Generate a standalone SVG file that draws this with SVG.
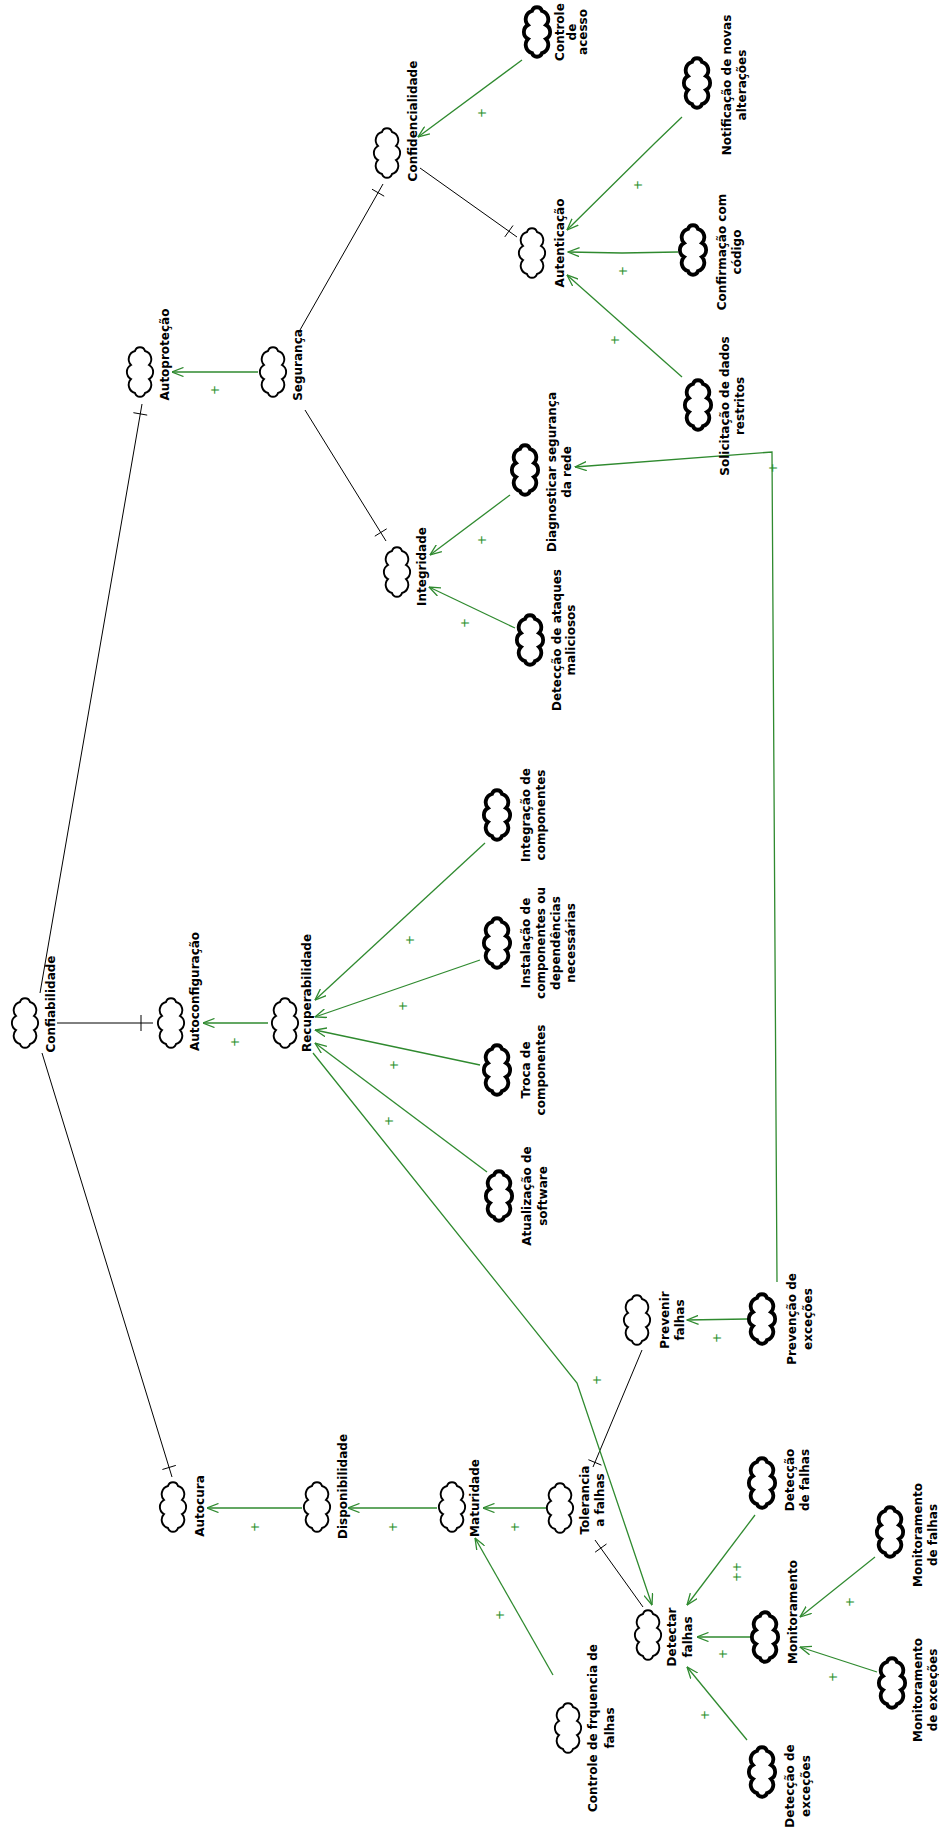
<svg xmlns="http://www.w3.org/2000/svg" xmlns:xlink="http://www.w3.org/1999/xlink" width="939" height="1827" viewBox="0 0 939 1827">
<style>
.c{fill:#fff;stroke:#000;stroke-width:1.9}
.b{stroke-width:3.8}
.t{font-family:"DejaVu Sans",Verdana,sans-serif;font-weight:bold;font-size:12px;fill:#000;text-anchor:middle}
.and{stroke:#000;stroke-width:1;fill:none}
.con{stroke:#2f8a2f;stroke-width:1.3;fill:none;marker-end:url(#arr)}
.p{font-family:"DejaVu Sans",sans-serif;font-size:12px;fill:#2a8f2a;text-anchor:middle}
</style>
<defs>
<!-- cloud glyph for goals and softgoals, centred on 0,0 -->
<path id="cloud" d="M-21,5 A5.2,5.2 0 0 1 -21,-5 A8.5,8.5 0 0 1 -7,-9 A8,8 0 0 1 7,-9 A8.5,8.5 0 0 1 21,-5 A5.2,5.2 0 0 1 21,5 A8.5,8.5 0 0 1 7,9 A8,8 0 0 1 -7,9 A8.5,8.5 0 0 1 -21,5 Z"/>
<marker id="arr" viewBox="0 0 12 10" refX="11.5" refY="5" markerWidth="12" markerHeight="10" markerUnits="userSpaceOnUse" orient="auto">
<path d="M0,0.5 L11.5,5 L0,9.5" fill="none" stroke="#2f8a2f" stroke-width="1.3"/>
</marker>
</defs>
<rect width="939" height="1827" fill="#fff"/>
<!-- the model is laid out left to right, then turned a quarter turn -->
<g transform="translate(0,1827) rotate(-90)">
<g id="connectors">
<!-- decomposition links with end ticks -->
<line class="and" x1="774" y1="42" x2="350" y2="172"/>
<line class="and" x1="361.6" y1="175.8" x2="357.5" y2="162.4"/>
<line class="and" x1="804" y1="57" x2="804" y2="153"/>
<line class="and" x1="796" y1="141" x2="812" y2="141"/>
<line class="and" x1="834" y1="40" x2="1423" y2="142"/>
<line class="and" x1="1411.9" y1="147.2" x2="1414.3" y2="133.4"/>
<line class="and" x1="1497" y1="300" x2="1643" y2="383"/>
<line class="and" x1="1630.8" y1="384.2" x2="1637.8" y2="372"/>
<line class="and" x1="1417" y1="305" x2="1286" y2="386"/>
<line class="and" x1="1290.8" y1="374.8" x2="1298.2" y2="386.7"/>
<line class="and" x1="1659" y1="420" x2="1590" y2="517"/>
<line class="and" x1="1590.1" y1="504.8" x2="1601.5" y2="513"/>
<line class="and" x1="477" y1="642" x2="360" y2="593"/>
<line class="and" x1="367.3" y1="588.4" x2="361.9" y2="601.4"/>
<line class="and" x1="220" y1="643" x2="287" y2="595"/>
<line class="and" x1="283" y1="606.5" x2="274.8" y2="595.1"/>
<!-- contribution links -->
<line class="con" x1="1455" y1="258" x2="1455" y2="172"/>
<line class="con" x1="1767" y1="522" x2="1690" y2="418"/>
<polyline class="con" points="1710,682 1684,655 1597,567"/>
<polyline class="con" points="1575,678 1574,622 1575,568"/>
<line class="con" x1="1450" y1="682" x2="1552" y2="567"/>
<line class="con" x1="1332" y1="510" x2="1272" y2="430"/>
<line class="con" x1="1199" y1="515" x2="1240" y2="429"/>
<polyline class="con" points="545,777 1375,772 1360,575"/>
<line class="con" x1="804" y1="268" x2="804" y2="203"/>
<line class="con" x1="984" y1="485" x2="827" y2="315"/>
<line class="con" x1="867" y1="480" x2="810" y2="315"/>
<line class="con" x1="762" y1="480" x2="797" y2="315"/>
<line class="con" x1="655" y1="487" x2="784" y2="315"/>
<polyline class="con" points="774,313 444,577 222,652"/>
<line class="con" x1="319" y1="547" x2="319" y2="483"/>
<line class="con" x1="319" y1="437" x2="319" y2="348"/>
<line class="con" x1="319" y1="302" x2="319" y2="207"/>
<line class="con" x1="152" y1="553" x2="289" y2="475"/>
<line class="con" x1="508" y1="747" x2="507" y2="687"/>
<line class="con" x1="312" y1="755" x2="222" y2="687"/>
<line class="con" x1="190" y1="753" x2="190" y2="697"/>
<line class="con" x1="87" y1="747" x2="160" y2="687"/>
<line class="con" x1="270" y1="875" x2="210" y2="800"/>
<line class="con" x1="155" y1="877" x2="180" y2="800"/>
<!-- link labels -->
<text class="p" x="1437" y="219">+</text>
<text class="p" x="1714" y="486">+</text>
<text class="p" x="1642" y="642">+</text>
<text class="p" x="1556" y="627">+</text>
<text class="p" x="1487" y="619">+</text>
<text class="p" x="1287" y="486">+</text>
<text class="p" x="1204" y="469">+</text>
<text class="p" x="1359" y="777">+</text>
<text class="p" x="785" y="239">+</text>
<text class="p" x="887" y="414">+</text>
<text class="p" x="821" y="407">+</text>
<text class="p" x="762" y="398">+</text>
<text class="p" x="706" y="393">+</text>
<text class="p" x="447" y="601">+</text>
<text class="p" x="300" y="519">+</text>
<text class="p" x="300" y="397">+</text>
<text class="p" x="300" y="259">+</text>
<text class="p" x="212" y="504">+</text>
<text class="p" x="489" y="721">+</text>
<text class="p" x="260" y="741">+</text>
<text class="p" x="250" y="741">+</text>
<text class="p" x="173" y="727">+</text>
<text class="p" x="112" y="709">+</text>
<text class="p" x="225" y="854">+</text>
<text class="p" x="150" y="837">+</text>
</g>
<g id="confiabilidade"><use xlink:href="#cloud" class="c" x="804" y="25"/><text class="t" x="823" y="55">Confiabilidade</text></g>
<g id="autoconfiguracao"><use xlink:href="#cloud" class="c" x="804" y="171"/><text class="t" x="835.5" y="199">Autoconfiguração</text></g>
<g id="autoprotecao"><use xlink:href="#cloud" class="c" x="1455" y="140"/><text class="t" x="1472.5" y="169">Autoproteção</text></g>
<g id="autocura"><use xlink:href="#cloud" class="c" x="320" y="173"/><text class="t" x="321" y="204">Autocura</text></g>
<g id="seguranca"><use xlink:href="#cloud" class="c" x="1455" y="273"/><text class="t" x="1462" y="302">Segurança</text></g>
<g id="confidencialidade"><use xlink:href="#cloud" class="c" x="1674" y="387"/><text class="t" x="1706" y="417">Confidencialidade</text></g>
<g id="integridade"><use xlink:href="#cloud" class="c" x="1255" y="397"/><text class="t" x="1260.5" y="426">Integridade</text></g>
<g id="autenticacao"><use xlink:href="#cloud" class="c" x="1574" y="532"/><text class="t" x="1584" y="564">Autenticação</text></g>
<g id="controle-acesso"><use xlink:href="#cloud" class="c b" x="1795" y="537"/><text class="t"><tspan x="1795" y="564">Controle</tspan><tspan x="1795" y="576">de</tspan><tspan x="1795" y="587">acesso</tspan></text></g>
<g id="notificacao"><use xlink:href="#cloud" class="c b" x="1744" y="697"/><text class="t"><tspan x="1742" y="731">Notificação de novas</tspan><tspan x="1742" y="746">alterações</tspan></text></g>
<g id="confirmacao"><use xlink:href="#cloud" class="c b" x="1577" y="693"/><text class="t"><tspan x="1575" y="726">Confirmação com</tspan><tspan x="1575" y="741">código</tspan></text></g>
<g id="solicitacao"><use xlink:href="#cloud" class="c b" x="1422" y="698"/><text class="t"><tspan x="1421" y="729">Solicitação de dados</tspan><tspan x="1421" y="744">restritos</tspan></text></g>
<g id="diagnosticar"><use xlink:href="#cloud" class="c b" x="1357" y="525"/><text class="t"><tspan x="1355" y="556">Diagnosticar segurança</tspan><tspan x="1355" y="571">da rede</tspan></text></g>
<g id="deteccao-ataques"><use xlink:href="#cloud" class="c b" x="1187" y="530"/><text class="t"><tspan x="1187" y="561">Detecção de ataques</tspan><tspan x="1187" y="575">maliciosos</tspan></text></g>
<g id="recuperabilidade"><use xlink:href="#cloud" class="c" x="804" y="285"/><text class="t" x="834" y="311">Recuperabilidade</text></g>
<g id="integracao"><use xlink:href="#cloud" class="c b" x="1012" y="497"/><text class="t"><tspan x="1012" y="530">Integração de</tspan><tspan x="1012" y="545">componentes</tspan></text></g>
<g id="instalacao"><use xlink:href="#cloud" class="c b" x="884" y="497"/><text class="t"><tspan x="884" y="530">Instalação de</tspan><tspan x="884" y="545">componentes ou</tspan><tspan x="884" y="560">dependências</tspan><tspan x="884" y="575">necessárias</tspan></text></g>
<g id="troca"><use xlink:href="#cloud" class="c b" x="757" y="497"/><text class="t"><tspan x="757" y="530">Troca de</tspan><tspan x="757" y="545">componentes</tspan></text></g>
<g id="atualizacao"><use xlink:href="#cloud" class="c b" x="631" y="499"/><text class="t"><tspan x="631" y="531">Atualização de</tspan><tspan x="631" y="547">software</tspan></text></g>
<g id="disponibilidade"><use xlink:href="#cloud" class="c" x="320" y="317"/><text class="t" x="340.5" y="347">Disponibilidade</text></g>
<g id="maturidade"><use xlink:href="#cloud" class="c" x="320" y="452"/><text class="t" x="329" y="479">Maturidade</text></g>
<g id="tolerancia"><use xlink:href="#cloud" class="c" x="319" y="560"/><text class="t"><tspan x="327" y="589">Tolerancia</tspan><tspan x="327" y="604">a falhas</tspan></text></g>
<g id="prevenir"><use xlink:href="#cloud" class="c" x="507" y="637"/><text class="t"><tspan x="507" y="669">Prevenir</tspan><tspan x="507" y="684">falhas</tspan></text></g>
<g id="prevencao"><use xlink:href="#cloud" class="c b" x="508" y="762"/><text class="t"><tspan x="508" y="796">Prevenção de</tspan><tspan x="508" y="812">exceções</tspan></text></g>
<g id="detectar"><use xlink:href="#cloud" class="c" x="192" y="648"/><text class="t"><tspan x="190" y="676">Detectar</tspan><tspan x="190" y="692">falhas</tspan></text></g>
<g id="controle-frequencia"><use xlink:href="#cloud" class="c" x="99" y="568"/><text class="t"><tspan x="99" y="597">Controle de frquencia de</tspan><tspan x="99" y="614">falhas</tspan></text></g>
<g id="deteccao-falhas"><use xlink:href="#cloud" class="c b" x="344" y="762"/><text class="t"><tspan x="347" y="794">Detecção</tspan><tspan x="347" y="809">de falhas</tspan></text></g>
<g id="monitoramento"><use xlink:href="#cloud" class="c b" x="190" y="765"/><text class="t" x="215" y="797">Monitoramento</text></g>
<g id="deteccao-excecoes"><use xlink:href="#cloud" class="c b" x="55" y="762"/><text class="t"><tspan x="41" y="794">Detecção de</tspan><tspan x="41" y="810">exceções</tspan></text></g>
<g id="monitoramento-falhas"><use xlink:href="#cloud" class="c b" x="295" y="890"/><text class="t"><tspan x="292" y="922">Monitoramento</tspan><tspan x="292" y="937">de falhas</tspan></text></g>
<g id="monitoramento-excecoes"><use xlink:href="#cloud" class="c b" x="144" y="892"/><text class="t"><tspan x="137" y="922">Monitoramento</tspan><tspan x="137" y="937">de exceções</tspan></text></g>
</g>
</svg>
